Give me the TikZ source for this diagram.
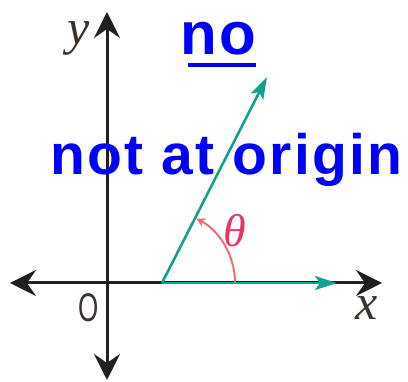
\documentclass[tikz,border=0pt]{standalone}
\usepackage{fontspec}
\newfontfamily\handfont[LetterSpace=4]{Liberation Sans}
\newfontfamily\lblfont{Liberation Serif}
\usetikzlibrary{arrows.meta}
\definecolor{cAxis}{RGB}{35,31,32}
\definecolor{cRay}{RGB}{20,160,140}
\definecolor{cArc}{RGB}{240,110,115}
\definecolor{cTheta}{RGB}{235,50,100}
\definecolor{cInk}{RGB}{0,0,255}
\definecolor{cLbl}{RGB}{60,50,45}

\begin{document}
\begin{tikzpicture}[x=1pt, y=1pt,
  axis/.style={cAxis, line width=3pt,
               {Stealth[length=26pt,width=26pt,inset=9pt]}-{Stealth[length=26pt,width=26pt,inset=9pt]}},
  ray/.style={cRay, line width=2.6pt, -{Stealth[length=22pt,width=14pt,inset=5pt]}},
  lbl/.style={cLbl, font=\lblfont\itshape\fontsize{50}{50}\selectfont, inner sep=0pt, anchor=base},
  hand/.style={cInk, font=\handfont\bfseries\fontsize{57}{57}\selectfont, inner sep=0pt}]
\useasboundingbox (0,0) rectangle (408,382);
% axes
\coordinate (xl) at (10,99);
\coordinate (xr) at (382,99);
\coordinate (yb) at (107,2);
\coordinate (yt) at (107,370);
\draw[axis] (xl) -- (xr);
\draw[axis] (yb) -- (yt);
% angle sides
\coordinate (vtx) at (162,99);
\coordinate (hx) at (337,99);
\coordinate (tip) at (267,305);
\draw[ray] (vtx) -- (hx);
\draw[ray] (vtx) -- (tip);
\draw[cArc, line width=2pt, -{Stealth[length=9pt,width=9pt]}]
  ([shift={(0:73pt)}]vtx) arc[start angle=0, end angle=62, radius=73pt];
% labels
\node[lbl] (ylbl) at (79,337) {y};
\node[lbl] (xlbl) at (367,62) {x};
\node[lbl, font=\handfont\fontsize{40}{40}\selectfont, xscale=0.65] (olbl) at (89,60) {O};
\node[lbl, cTheta, font=\lblfont\itshape\fontsize{46}{46}\selectfont] (theta) at (235,135) {θ};
% handwriting
\node[hand, anchor=base west] (nt) at (50,207) {not at origin};
\node[hand, anchor=base west, font=\handfont\bfseries\fontsize{60}{60}\selectfont] (no) at (180,327) {no};
\draw[cInk, line width=4pt] ([xshift=8pt,yshift=-10pt]no.base west) -- ([yshift=-10pt]no.base east);
\end{tikzpicture}
\end{document}
